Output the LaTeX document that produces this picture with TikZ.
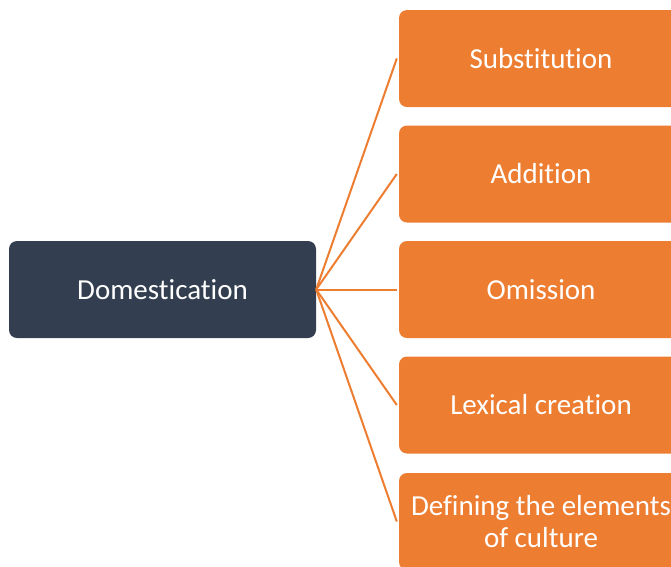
\documentclass[tikz,border=0pt]{standalone}
\usepackage{fontspec}
\setmainfont[Ligatures={NoCommon}]{Carlito}
\definecolor{navy}{HTML}{333F50}
\definecolor{accent}{HTML}{ED7D31}
\begin{document}
\begin{tikzpicture}[x=1pt,y=-1pt,
  rootbox/.style={fill=navy, draw=none, rounded corners=8pt, text=white,
    minimum width=307pt, minimum height=97pt, inner sep=0pt,
    font=\fontsize{29}{32}\selectfont},
  leafbox/.style={fill=accent, draw=none, rounded corners=8pt, text=white,
    minimum width=284pt, minimum height=97pt, inner sep=0pt, align=center,
    font=\fontsize{29}{32}\selectfont},
  link/.style={draw=accent, line width=2pt}]
  \useasboundingbox (0,0) rectangle (671,566);
  \clip (0,0) rectangle (671,566);
  \node[rootbox] (dom) at (162.5,289.5) {Domestication};
  \node[leafbox] (sub) at (541,58.5) {Substitution};
  \node[leafbox] (add) at (541,174) {Addition};
  \node[leafbox] (omi) at (541,289.5) {Omission};
  \node[leafbox] (lex) at (541,405) {Lexical creation};
  \node[leafbox] (def) at (541,521.5) {Defining the elements\\of culture};
  \foreach \t in {sub,add,omi,lex,def}
    \draw[link] (dom.east) -- ([xshift=-2pt]\t.west);
\end{tikzpicture}
\end{document}
